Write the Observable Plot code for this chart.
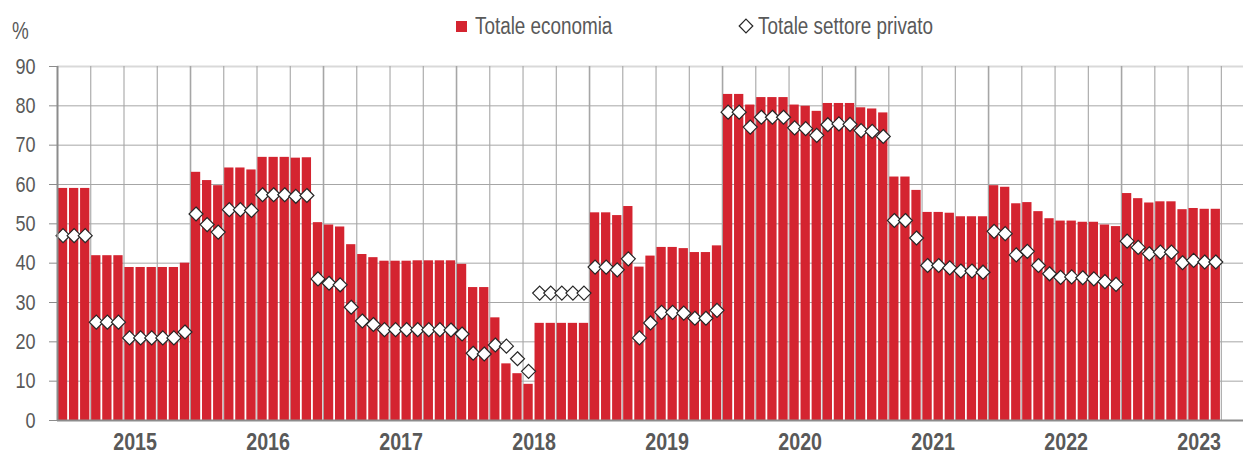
<!DOCTYPE html>
<html>
<head>
<meta charset="utf-8">
<script src="https://cdn.jsdelivr.net/npm/d3@7"></script>
<script src="https://cdn.jsdelivr.net/npm/@observablehq/plot@0.6"></script>
<style>
  html, body { margin: 0; padding: 0; background: #fff; }
  #wrap { width: 1243px; position: relative; }
  #legend { position: relative; height: 50px; color: #595959; }
  #legend span { position: absolute; white-space: nowrap; line-height: 1; }
</style>
</head>
<body>
<div id="wrap">
  <div id="legend"></div>
  <div id="chart"></div>
</div>
<script>
// Monthly data, December 2014 -> August 2023 (105 months)
const startMonth = "2014-12";
const economia = [
  59.0, 59.0, 59.0,
  41.9, 41.9, 41.9,
  38.9, 38.9, 38.9, 38.9, 38.9,
  40.0,
  63.1, 61.0, 59.7, 64.2, 64.2, 63.7, 66.9, 66.9, 66.9, 66.7, 66.8,
  50.3, 49.7, 49.2, 44.7, 42.2, 41.4, 40.5, 40.5, 40.5,
  40.6, 40.6, 40.6, 40.6, 39.7, 33.8, 33.8, 26.1, 14.4, 11.9, 9.2,
  24.7, 24.7, 24.7, 24.7, 24.7,
  52.8, 52.8, 52.1, 54.4, 39.0, 41.8, 44.0, 44.0, 43.7, 42.7, 42.7, 44.4,
  82.9, 82.9, 80.2, 82.1, 82.1, 82.1, 80.2, 79.9, 78.6, 80.6, 80.6, 80.6, 79.5, 79.2, 78.2,
  61.9, 61.9, 58.5, 52.9, 52.9, 52.7, 51.8, 51.8, 51.8,
  59.7, 59.3, 55.1, 55.4, 53.1, 51.3, 50.7, 50.7, 50.4, 50.4, 49.7, 49.3,
  57.7, 56.4, 55.3, 55.6, 55.6, 53.6, 53.9, 53.7, 53.7
];
const privato = [
  47.0, 47.0, 47.0,
  25.0, 25.0, 25.0,
  21.0, 21.0, 21.0, 21.0, 21.0,
  22.5,
  52.5, 49.8, 47.9, 53.6, 53.6, 53.4, 57.4, 57.4, 57.4, 57.0, 57.2,
  36.0, 34.9, 34.5, 28.8, 25.3, 24.4, 23.1, 23.1, 23.1,
  23.1, 23.1, 23.1, 23.0, 22.0, 17.1, 16.9, 19.2, 18.9, 15.7, 12.5,
  32.4, 32.4, 32.4, 32.4, 32.4,
  39.0, 39.0, 38.3, 41.1, 21.0, 24.8, 27.5, 27.5, 27.3, 26.0, 26.0, 28.0,
  78.4, 78.4, 74.6, 77.1, 77.1, 77.1, 74.4, 74.2, 72.5, 75.2, 75.4, 75.3, 73.7, 73.5, 72.2,
  50.85, 50.85, 46.4, 39.4, 39.4, 38.8, 38.0, 38.0, 37.7,
  48.1, 47.5, 42.1, 43.0, 39.4, 37.3, 36.4, 36.5, 36.3, 36.0, 35.3, 34.6,
  45.6, 44.0, 42.4, 42.8, 42.8, 40.1, 40.7, 40.3, 40.3
];
const years = ["2015", "2016", "2017", "2018", "2019", "2020", "2021", "2022", "2023"];
const yTicks = [0, 10, 20, 30, 40, 50, 60, 70, 80, 90];
const seriesNames = ["Totale economia", "Totale settore privato"];
const unitLabel = "%";

// font detection: the reference uses a narrow sans; emulate with horizontal scaling if needed
function hasFont(name) {
  const c = document.createElement("canvas").getContext("2d");
  const s = "Totale economia 2015 abcdefghijkl";
  c.font = "40px monospace";
  const w0 = c.measureText(s).width;
  c.font = `40px '${name}', monospace`;
  const w1 = c.measureText(s).width;
  return Math.abs(w0 - w1) > 0.5;
}
const narrow = hasFont("Liberation Sans Narrow");
const FF = narrow ? "'Liberation Sans Narrow', 'Liberation Sans', Arial, sans-serif"
                  : "'Liberation Sans', Arial, sans-serif";
const SX = narrow ? 1 : 0.82;
const fsTick = 22, fsLegend = 23, fsYear = 24;

const RED = "#d42430";
const TXT = "#595959";
const GRID = "#a6a6a6";

const [sy, sm] = startMonth.split("-").map(Number);
const rows = economia.map((v, i) => ({ i, v, p: privato[i] }));
const N = rows.length;
const firstJan = (Number(years[0]) - sy) * 12 + (1 - sm);
const yearLabels = years.map((label, j) => ({ label, x: firstJan + 12 * j + 6 }));
const gridX = d3.range(0, N + 1, 3);

const chart = Plot.plot({
  width: 1243,
  height: 405,
  marginLeft: 57,
  marginRight: 0,
  marginTop: 16,
  marginBottom: 35,
  style: { fontFamily: FF, color: TXT, background: "white", overflow: "visible" },
  x: { type: "linear", domain: [0, N + 2], axis: null },
  y: { domain: [0, 90], axis: null },
  marks: [
    Plot.ruleY(yTicks.filter(d => d > 0 && d < 90), { stroke: GRID, strokeWidth: 1 }),
    Plot.ruleY([90], { stroke: "#d9d9d9", strokeWidth: 2 }),
    Plot.ruleX(gridX.filter(d => d > 0), {
      stroke: GRID,
      strokeWidth: d => (d % 12 === 0 ? 1.6 : 1.1),
      y1: 0, y2: 90
    }),
    Plot.rectY(rows, {
      x1: "i", x2: d => d.i + 1, y: "v",
      fill: RED, insetLeft: 0.9, insetRight: 0.9
    }),
    Plot.dot(rows, {
      x: d => d.i + 0.5, y: "p", symbol: "diamond2", r: 6.3,
      fill: "white", stroke: "#262626", strokeWidth: 1.2
    }),
    Plot.ruleY([0], { stroke: "#8c8c8c", strokeWidth: 2 }),
    Plot.ruleX([0], { y1: 0, y2: 90, stroke: "#8c8c8c", strokeWidth: 2 }),
    Plot.axisY({
      ticks: yTicks, tickSize: 8, tickPadding: 14, label: null,
      stroke: "#8c8c8c", fill: TXT, fontSize: fsTick, tickFormat: d => String(d)
    }),
    Plot.text(yearLabels, {
      x: "x", y: () => 0, dy: 22, text: "label",
      fontWeight: "bold", fontSize: fsYear, fill: TXT
    })
  ]
});
document.getElementById("chart").appendChild(chart);

// horizontal condensing of SVG text around its anchor
if (SX !== 1) {
  chart.querySelectorAll("text").forEach(t => {
    const tr = t.getAttribute("transform") || "";
    const xa = t.getAttribute("x");
    if (xa !== null && !isNaN(+xa)) t.setAttribute("x", (+xa) / SX);
    const dxa = t.getAttribute("dx");
    if (dxa !== null && !isNaN(+dxa)) t.setAttribute("dx", (+dxa) / SX);
    t.setAttribute("transform", `${tr} scale(${SX},1)`);
  });
}

// Legend (HTML above the SVG)
const lg = document.getElementById("legend");
lg.style.fontFamily = FF;
function span(html, left, top, extra = "") {
  const s = document.createElement("span");
  s.innerHTML = html;
  s.style.left = left + "px";
  s.style.top = top + "px";
  s.style.cssText += extra;
  lg.appendChild(s);
  return s;
}
const cond = `transform:scaleX(${SX});transform-origin:0 50%;`;
span(unitLabel, 12, 31 - fsLegend / 2, `font-size:${fsLegend}px;` + cond);
span("", 456, 21, `width:11px;height:11px;background:${RED};`);
span(seriesNames[0], 475, 26 - fsLegend / 2, `font-size:${fsLegend}px;` + cond);
span(`<svg width="16" height="16" viewBox="-8 -8 16 16" style="display:block"><path d="M0,-6.8L6.8,0L0,6.8L-6.8,0Z" fill="white" stroke="#262626" stroke-width="1.2"/></svg>`, 738, 18);
span(seriesNames[1], 758, 26 - fsLegend / 2, `font-size:${fsLegend}px;` + cond);
</script>
</body>
</html>
